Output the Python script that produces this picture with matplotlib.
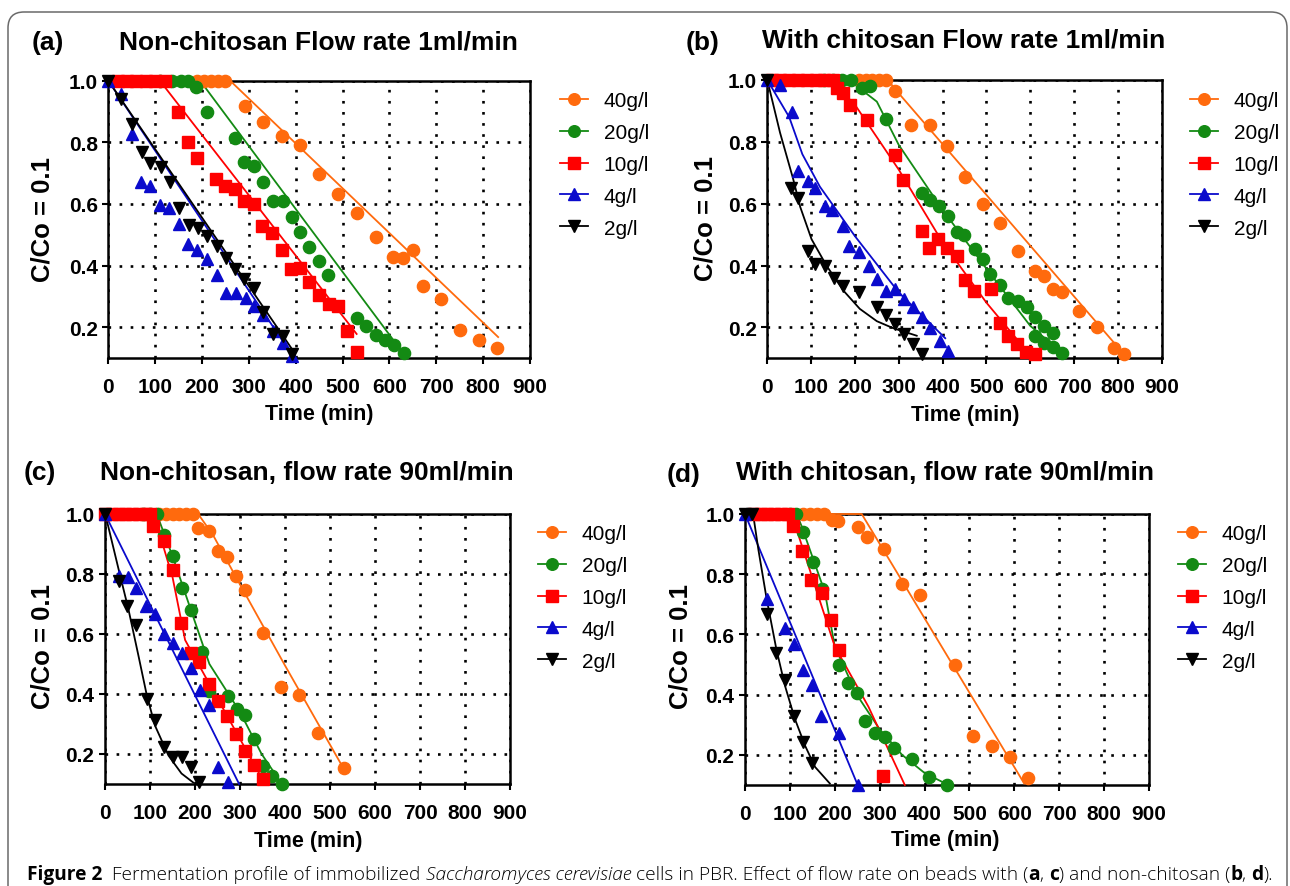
import matplotlib
matplotlib.use('Agg')
import matplotlib.pyplot as plt
from matplotlib.patches import FancyBboxPatch
from matplotlib.lines import Line2D

plt.rcParams['font.family'] = ['Liberation Sans', 'DejaVu Sans']

# ---------------- data ----------------
labels = ['40g/l', '20g/l', '10g/l', '4g/l', '2g/l']
colors = ['#FF6A0D', '#138A13', '#FF0000', '#0A0ACC', '#000000']
markers = ['o', 'o', 's', '^', 'v']
x_ticks = [0, 100, 200, 300, 400, 500, 600, 700, 800, 900]
y_ticks = [0.2, 0.4, 0.6, 0.8, 1.0]

# Panel (a) Non-chitosan, 1 ml/min
a40_x = [190, 205, 220, 235, 250, 292, 331, 370, 409, 450, 491, 530, 571, 608, 630, 651, 671, 709, 750, 791, 830]
a40_y = [1.0, 1.0, 1.0, 1.0, 1.0, 0.919, 0.867, 0.822, 0.791, 0.697, 0.632, 0.571, 0.492, 0.427, 0.424, 0.449, 0.335, 0.292, 0.192, 0.160, 0.132]
a40_fx = [190, 260, 832]
a40_fy = [1.0, 1.0, 0.168]
a20_x = [110, 135, 155, 170, 188, 210, 270, 289, 311, 331, 351, 372, 391, 410, 429, 449, 469, 530, 550, 571, 590, 610, 631]
a20_y = [1.0, 1.0, 1.0, 1.0, 0.978, 0.90, 0.813, 0.737, 0.724, 0.672, 0.611, 0.608, 0.559, 0.508, 0.459, 0.416, 0.368, 0.229, 0.205, 0.176, 0.160, 0.141, 0.117]
a20_fx = [110, 196, 633]
a20_fy = [1.0, 1.0, 0.108]
a10_x = [20, 40, 60, 80, 100, 120, 149, 171, 190, 229, 249, 270, 289, 310, 327, 349, 370, 389, 409, 429, 450, 471, 491, 510, 531]
a10_y = [1.0, 1.0, 1.0, 1.0, 1.0, 1.0, 0.897, 0.80, 0.748, 0.681, 0.657, 0.649, 0.611, 0.60, 0.530, 0.506, 0.449, 0.389, 0.391, 0.346, 0.303, 0.276, 0.270, 0.189, 0.119]
a10_fx = [20, 110, 530]
a10_fy = [1.0, 1.0, 0.178]
a4_x = [0, 28, 51, 69, 89, 110, 130, 151, 171, 190, 211, 231, 251, 272, 294, 311, 331, 352, 372, 391]
a4_y = [1.0, 0.957, 0.827, 0.672, 0.659, 0.595, 0.586, 0.535, 0.470, 0.452, 0.422, 0.368, 0.311, 0.311, 0.294, 0.270, 0.238, 0.189, 0.149, 0.108]
a4_fx = [0, 395]
a4_fy = [1.0, 0.103]
a2_x = [0, 28, 50, 71, 90, 112, 132, 151, 173, 192, 211, 231, 251, 270, 290, 311, 331, 352, 372, 391]
a2_y = [1.0, 0.94, 0.86, 0.77, 0.732, 0.719, 0.670, 0.586, 0.532, 0.521, 0.497, 0.463, 0.424, 0.389, 0.357, 0.326, 0.249, 0.178, 0.173, 0.114]
a2_fx = [0, 397]
a2_fy = [1.0, 0.118]

# Panel (b) With chitosan, 1 ml/min
b40_x = [210, 225, 240, 255, 270, 291, 329, 371, 411, 451, 493, 531, 571, 611, 632, 653, 672, 712, 752, 791, 813]
b40_y = [1.0, 1.0, 1.0, 1.0, 1.0, 0.966, 0.855, 0.855, 0.787, 0.686, 0.60, 0.536, 0.447, 0.382, 0.366, 0.325, 0.315, 0.253, 0.20, 0.132, 0.114]
b40_fx = [210, 275, 295, 817]
b40_fy = [1.0, 1.0, 0.965, 0.108]
b20_x = [130, 150, 170, 190, 215, 234, 271, 354, 371, 392, 412, 432, 449, 473, 493, 509, 530, 550, 571, 592, 611, 632, 651, 611, 632, 651, 672]
b20_y = [1.0, 1.0, 1.0, 1.0, 0.973, 0.979, 0.873, 0.635, 0.611, 0.592, 0.56, 0.509, 0.498, 0.452, 0.42, 0.372, 0.336, 0.296, 0.286, 0.267, 0.232, 0.205, 0.182, 0.173, 0.151, 0.135, 0.117]
b20_fx = [0, 200, 250, 300, 400, 500, 600, 676]
b20_fy = [0.985, 0.985, 0.93, 0.79, 0.58, 0.39, 0.205, 0.114]
b10_x = [10, 30, 50, 70, 90, 110, 130, 150, 160, 173, 188, 228, 291, 310, 352, 370, 390, 411, 432, 451, 471, 510, 530, 550, 569, 590, 611]
b10_y = [1.0, 1.0, 1.0, 1.0, 1.0, 1.0, 1.0, 1.0, 0.973, 0.957, 0.919, 0.871, 0.758, 0.678, 0.511, 0.458, 0.487, 0.458, 0.431, 0.353, 0.318, 0.323, 0.214, 0.173, 0.146, 0.119, 0.114]
b10_fx = [0, 150, 200, 300, 400, 500, 600]
b10_fy = [1.0, 0.99, 0.92, 0.71, 0.475, 0.28, 0.11]
b4_x = [0, 29, 56, 71, 92, 109, 132, 147, 172, 187, 210, 231, 251, 271, 291, 312, 333, 352, 371, 393, 412]
b4_y = [1.0, 0.984, 0.898, 0.705, 0.672, 0.651, 0.592, 0.581, 0.527, 0.463, 0.444, 0.398, 0.356, 0.318, 0.323, 0.293, 0.267, 0.232, 0.197, 0.157, 0.125]
b4_fx = [0, 50, 80, 120, 200, 300, 406]
b4_fy = [1.0, 0.88, 0.76, 0.655, 0.495, 0.313, 0.165]
b2_x = [0, 55, 71, 94, 109, 132, 152, 172, 210, 250, 271, 291, 312, 333, 352]
b2_y = [1.0, 0.651, 0.619, 0.447, 0.404, 0.398, 0.361, 0.334, 0.315, 0.267, 0.24, 0.21, 0.178, 0.146, 0.114]
b2_fx = [0, 29, 59, 75, 101, 135, 173, 211, 250, 288, 341]
b2_fy = [1.0, 0.83, 0.68, 0.59, 0.485, 0.40, 0.32, 0.26, 0.22, 0.197, 0.173]

# Panel (c) Non-chitosan, 90 ml/min
c40_x = [120, 135, 150, 165, 180, 195, 207, 230, 250, 270, 290, 311, 352, 391, 431, 473, 530]
c40_y = [1.0, 1.0, 1.0, 1.0, 1.0, 1.0, 0.952, 0.944, 0.878, 0.856, 0.794, 0.748, 0.603, 0.422, 0.398, 0.27, 0.152]
c40_fx = [195, 207, 240, 300, 400, 530]
c40_fy = [1.0, 1.0, 0.93, 0.765, 0.495, 0.152]
c20_x = [85, 100, 115, 130, 150, 170, 191, 215, 232, 273, 293, 312, 332, 352, 372, 393]
c20_y = [1.0, 1.0, 1.0, 0.93, 0.861, 0.752, 0.681, 0.541, 0.409, 0.394, 0.35, 0.33, 0.25, 0.161, 0.128, 0.10]
c20_fx = [85, 115, 150, 200, 232, 300, 348, 393]
c20_fy = [1.0, 1.0, 0.86, 0.64, 0.50, 0.34, 0.20, 0.10]
c10_x = [0, 15, 30, 45, 60, 75, 90, 100, 107, 130, 150, 169, 191, 209, 230, 252, 270, 290, 311, 332, 352]
c10_y = [1.0, 1.0, 1.0, 1.0, 1.0, 1.0, 1.0, 1.0, 0.961, 0.911, 0.814, 0.637, 0.537, 0.506, 0.433, 0.378, 0.328, 0.267, 0.211, 0.164, 0.117]
c10_fx = [0, 96, 120, 150, 178, 200, 274, 352]
c10_fy = [1.0, 1.0, 0.94, 0.79, 0.58, 0.52, 0.32, 0.11]
c4_x = [0, 30, 50, 68, 90, 110, 131, 150, 170, 191, 211, 231, 252, 273]
c4_y = [1.0, 0.794, 0.789, 0.752, 0.694, 0.667, 0.60, 0.57, 0.537, 0.486, 0.414, 0.364, 0.156, 0.106]
c4_fx = [0, 298]
c4_fy = [1.0, 0.10]
c2_x = [0, 30, 48, 68, 93, 111, 130, 152, 172, 190, 209]
c2_y = [1.0, 0.778, 0.694, 0.63, 0.383, 0.314, 0.222, 0.189, 0.189, 0.156, 0.106]
c2_fx = [0, 7, 30, 52, 74, 93, 111, 141, 170, 196]
c2_fy = [1.0, 0.96, 0.817, 0.683, 0.53, 0.395, 0.295, 0.195, 0.135, 0.105]

# Panel (d) With chitosan, 90 ml/min
d40_x = [130, 145, 160, 175, 193, 208, 251, 271, 310, 349, 390, 468, 509, 551, 590, 630]
d40_y = [1.0, 1.0, 1.0, 1.0, 0.981, 0.978, 0.956, 0.922, 0.883, 0.767, 0.731, 0.498, 0.264, 0.228, 0.194, 0.124]
d40_fx = [130, 260, 622]
d40_fy = [1.0, 1.0, 0.105]
d20_x = [100, 114, 130, 152, 172, 209, 230, 249, 267, 290, 312, 333, 371, 410, 449]
d20_y = [1.0, 1.0, 0.939, 0.839, 0.75, 0.50, 0.439, 0.406, 0.311, 0.272, 0.259, 0.222, 0.186, 0.128, 0.10]
d20_fx = [100, 115, 126, 178, 200, 249, 300, 350, 400, 453]
d20_fy = [1.0, 1.0, 0.96, 0.74, 0.56, 0.40, 0.285, 0.20, 0.14, 0.10]
d10_x = [20, 35, 50, 65, 80, 95, 108, 126, 148, 172, 191, 210, 308]
d10_y = [1.0, 1.0, 1.0, 1.0, 1.0, 1.0, 0.961, 0.878, 0.781, 0.737, 0.648, 0.548, 0.13]
d10_fx = [20, 104, 119, 200, 275, 356]
d10_fy = [1.0, 1.0, 0.93, 0.56, 0.36, 0.10]
d4_x = [0, 48, 89, 110, 130, 150, 169, 209, 251]
d4_y = [1.0, 0.717, 0.622, 0.567, 0.481, 0.433, 0.328, 0.272, 0.10]
d4_fx = [0, 251]
d4_fy = [1.0, 0.10]
d2_x = [0, 15, 50, 69, 89, 110, 130, 150]
d2_y = [1.0, 1.0, 0.667, 0.539, 0.45, 0.328, 0.244, 0.172]
d2_fx = [0, 18, 30, 48, 70, 89, 111, 134, 156, 189]
d2_fy = [1.0, 1.0, 0.88, 0.72, 0.55, 0.43, 0.32, 0.23, 0.16, 0.105]

titles = ['Non-chitosan Flow rate 1ml/min', 'With chitosan Flow rate 1ml/min',
          'Non-chitosan, flow rate 90ml/min', 'With chitosan, flow rate 90ml/min']
tags = ['(a)', '(b)', '(c)', '(d)']
xlabel = 'Time (min)'
ylabel = 'C/Co = 0.1'

series = {
    'a': [(a40_x, a40_y, a40_fx, a40_fy), (a20_x, a20_y, a20_fx, a20_fy), (a10_x, a10_y, a10_fx, a10_fy),
          (a4_x, a4_y, a4_fx, a4_fy), (a2_x, a2_y, a2_fx, a2_fy)],
    'b': [(b40_x, b40_y, b40_fx, b40_fy), (b20_x, b20_y, b20_fx, b20_fy), (b10_x, b10_y, b10_fx, b10_fy),
          (b4_x, b4_y, b4_fx, b4_fy), (b2_x, b2_y, b2_fx, b2_fy)],
    'c': [(c40_x, c40_y, c40_fx, c40_fy), (c20_x, c20_y, c20_fx, c20_fy), (c10_x, c10_y, c10_fx, c10_fy),
          (c4_x, c4_y, c4_fx, c4_fy), (c2_x, c2_y, c2_fx, c2_fy)],
    'd': [(d40_x, d40_y, d40_fx, d40_fy), (d20_x, d20_y, d20_fx, d20_fy), (d10_x, d10_y, d10_fx, d10_fy),
          (d4_x, d4_y, d4_fx, d4_fy), (d2_x, d2_y, d2_fx, d2_fy)],
}

# ---------------- layout (pixels) ----------------
W, H = 1290, 887
fig = plt.figure(figsize=(W / 100, H / 100), dpi=100)


def fx(px):
    return px / W


def fy(py):
    return 1 - py / H


layout = {
    # left, right, top, bottom
    'a': dict(box=(108.3, 530.0, 81.7, 359.0), tag=(48, 43), title=(318, 42), xl=(319, 415), yl=(43, 220), leg=(560, 100)),
    'b': dict(box=(767.3, 1161.7, 81.0, 359.3), tag=(703, 43), title=(964, 41), xl=(965, 416), yl=(706, 219), leg=(1190, 100)),
    'c': dict(box=(105.0, 510.0, 515.0, 785.0), tag=(40, 473), title=(307, 473), xl=(308, 842), yl=(43, 647), leg=(538, 533)),
    'd': dict(box=(745.0, 1149.0, 515.0, 786.0), tag=(684, 475), title=(945, 473), xl=(945, 841), yl=(680, 647), leg=(1178, 533)),
}

ms_list = [8.8, 8.8, 8.6, 9.2, 9.2]

for i, key in enumerate(['a', 'b', 'c', 'd']):
    L = layout[key]
    l, r, t, b = L['box']
    ax = fig.add_axes([fx(l), fy(b), (r - l) / W, (b - t) / H])
    for j, (x, y, lx, ly) in enumerate(series[key]):
        ax.plot(lx, ly, color=colors[j], lw=1.3, clip_on=False, zorder=3 + j * 0.1)
        ax.plot(x, y, ls='none', marker=markers[j], ms=ms_list[j], color=colors[j],
                mec=colors[j], clip_on=False, zorder=4 + j * 0.1)
    ax.set_xlim(0, 900)
    ax.set_ylim(0.1, 1.0)
    ax.set_xticks(x_ticks)
    ax.set_yticks(y_ticks)
    ax.set_xticklabels([str(v) for v in x_ticks])
    ax.set_yticklabels(['%.1f' % v for v in y_ticks])
    ax.set_axisbelow(True)
    ax.grid(True, color='black', ls=(0, (1, 3.2)), lw=1.9)
    for sp in ax.spines.values():
        sp.set_linewidth(1.8)
    ax.tick_params(direction='out', length=4.5, width=1.5, labelsize=15)
    ax.tick_params(axis='x', pad=9)
    ax.tick_params(axis='y', pad=3)
    for lab in ax.get_xticklabels() + ax.get_yticklabels():
        lab.set_fontweight('bold')

    handles = [Line2D([0], [0], color=colors[j], lw=1.3, marker=markers[j], ms=ms_list[j] * 0.95,
                      mec=colors[j]) for j in range(5)]
    lxp, lyp = L['leg']
    ax.legend(handles, labels, loc='upper left', bbox_to_anchor=(fx(lxp), fy(lyp - 8)),
              bbox_transform=fig.transFigure, frameon=False, fontsize=15, handlelength=1.35,
              handletextpad=0.75, labelspacing=0.62, borderpad=0, borderaxespad=0, numpoints=1)

    fig.text(fx(L['tag'][0]), fy(L['tag'][1]), tags[i], fontsize=19, fontweight='bold', ha='center', va='center')
    fig.text(fx(L['title'][0]), fy(L['title'][1]), titles[i], fontsize=19, fontweight='bold', ha='center', va='center')
    fig.text(fx(L['xl'][0]), fy(L['xl'][1]), xlabel, fontsize=15.5, fontweight='bold', ha='center', va='center')
    fig.text(fx(L['yl'][0]), fy(L['yl'][1]), ylabel, fontsize=18.5, fontweight='bold', ha='center', va='center',
             rotation=90)

# border
border = FancyBboxPatch((0.08, -0.5), 12.79, 8.74 + 0.5, boxstyle='round,pad=0,rounding_size=0.16',
                        transform=fig.dpi_scale_trans, fill=False, ec='#6a6a6a', lw=1.1)
fig.add_artist(border)

# caption
pieces = [('Figure 2', 'bold', 'normal'), ('  Fermentation profile of immobilized ', 'light', 'normal'),
          ('Saccharomyces cerevisiae', 'light', 'italic'),
          (' cells in PBR. Effect of flow rate on beads with (', 'light', 'normal'),
          ('a', 'bold', 'normal'), (', ', 'light', 'normal'), ('c', 'bold', 'normal'),
          (') and non-chitosan (', 'light', 'normal'), ('b', 'bold', 'normal'), (', ', 'light', 'normal'),
          ('d', 'bold', 'normal'), (').', 'light', 'normal')]
renderer = fig.canvas.get_renderer()


def width_of(s, size, weight, style):
    t1 = fig.text(0, 0, 'X' + s + 'X', fontsize=size, fontweight=weight, fontstyle=style, family='Open Sans')
    t2 = fig.text(0, 0, 'XX', fontsize=size, fontweight=weight, fontstyle=style, family='Open Sans')
    w = t1.get_window_extent(renderer).width - t2.get_window_extent(renderer).width
    t1.remove()
    t2.remove()
    return w


base = 12.0
total = sum(width_of(s, base, w, st) for s, w, st in pieces)
size = base * (1268 - 27) / total
xpos = 27.0
for s, w, st in pieces:
    fig.text(fx(xpos), fy(880), s, fontsize=size, fontweight=w, fontstyle=st, family='Open Sans',
             ha='left', va='baseline')
    xpos += width_of(s, size, w, st)

fig.savefig('out.png', dpi=100)
